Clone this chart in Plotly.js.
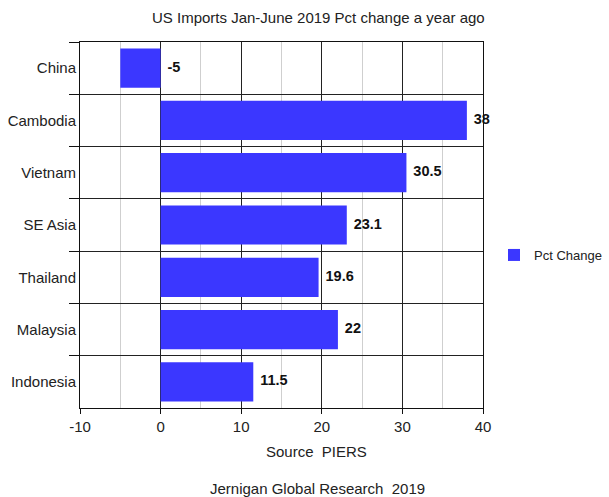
<!DOCTYPE html>
<html>
<head>
<meta charset="utf-8">
<script src="https://cdn.plot.ly/plotly-3.0.1.min.js"></script>
<style>html,body{margin:0;padding:0;background:#fff;}#chart{width:609px;height:497px;}</style>
</head>
<body>
<div id="chart"></div>
<script>
const categories = ["China", "Cambodia", "Vietnam", "SE Asia", "Thailand", "Malaysia", "Indonesia"];
const values = [-5, 38, 30.5, 23.1, 19.6, 22, 11.5];
const seriesName = "Pct Change";
const xTickVals = [-10, 0, 10, 20, 30, 40];

const labelX = values.map(v => Math.max(v, 0));
const labelText = values.map(v => " \u2009" + String(v));

const FONT = "Liberation Sans, Arial, sans-serif";
const PW = 403, PH = 366, ML = 80, MT = 42;
const px2x = p => (p - ML) / PW;
const py2y = p => 1 - (p - MT) / PH;

const data = [
  {
    type: "bar",
    orientation: "h",
    y: categories,
    x: values,
    name: seriesName,
    marker: {color: "#3b37ff", line: {width: 0}},
    hoverinfo: "x+y"
  },
  {
    type: "scatter",
    mode: "text",
    y: categories,
    x: labelX,
    text: labelText,
    textposition: "middle right",
    textfont: {family: FONT, size: 14.5, color: "#111", weight: "bold"},
    showlegend: false,
    cliponaxis: false,
    hoverinfo: "skip"
  }
];

const layout = {
  width: 609,
  height: 497,
  margin: {l: 80, r: 126, t: 42, b: 89, autoexpand: false},
  paper_bgcolor: "#fff",
  plot_bgcolor: "#fff",
  font: {family: FONT, size: 15, color: "#222"},
  bargap: 0.25,
  xaxis: {
    range: [-10, 40],
    tickvals: xTickVals,
    ticktext: xTickVals.map(String),
    showgrid: true,
    gridcolor: "#222",
    gridwidth: 1,
    minor: {dtick: 5, tick0: 0, showgrid: true, gridcolor: "#cfcfcf", gridwidth: 1, ticks: ""},
    zeroline: false,
    showline: true,
    linecolor: "#111",
    mirror: true,
    ticks: "outside",
    ticklen: 5,
    tickcolor: "#111",
    tickfont: {family: FONT, size: 15, color: "#222"},
    fixedrange: true
  },
  yaxis: {
    type: "category",
    autorange: "reversed",
    tickson: "boundaries",
    showgrid: true,
    gridcolor: "#222",
    gridwidth: 1,
    showline: true,
    linecolor: "#111",
    mirror: true,
    ticks: "outside",
    ticklen: 10,
    tickcolor: "#111",
    tickfont: {family: FONT, size: 15, color: "#222"},
    fixedrange: true
  },
  legend: {
    x: px2x(494), xanchor: "left",
    y: py2y(255), yanchor: "middle",
    font: {family: FONT, size: 13, color: "#222"},
    bgcolor: "rgba(0,0,0,0)"
  },
  annotations: [
    {
      text: "US Imports Jan-June 2019 Pct change a year ago",
      xref: "paper", yref: "paper",
      x: px2x(318), xanchor: "center",
      y: py2y(18), yanchor: "middle",
      showarrow: false,
      font: {family: FONT, size: 15, color: "#222"}
    },
    {
      text: "Source  PIERS",
      xref: "paper", yref: "paper",
      x: px2x(316), xanchor: "center",
      y: py2y(452), yanchor: "middle",
      showarrow: false,
      font: {family: FONT, size: 15, color: "#222"}
    },
    {
      text: "Jernigan Global Research  2019",
      xref: "paper", yref: "paper",
      x: px2x(317), xanchor: "center",
      y: py2y(488), yanchor: "middle",
      showarrow: false,
      font: {family: FONT, size: 15, color: "#222"}
    }
  ]
};

Plotly.newPlot("chart", data, layout, {displayModeBar: false, staticPlot: true});
</script>
</body>
</html>
